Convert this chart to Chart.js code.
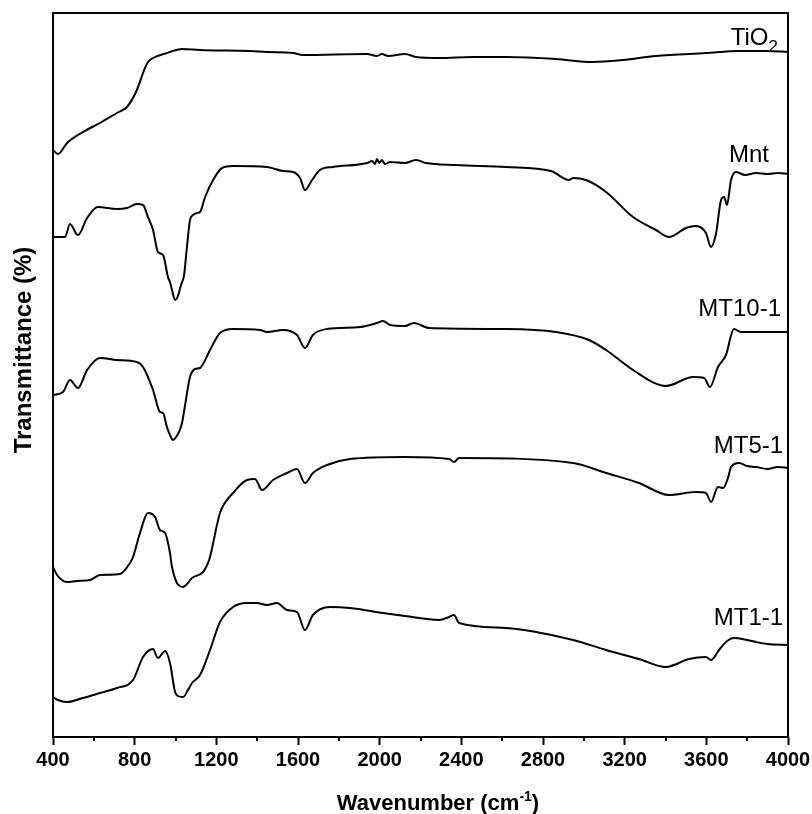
<!DOCTYPE html>
<html>
<head>
<meta charset="utf-8">
<script src="https://cdn.jsdelivr.net/npm/chart.js@4"></script>
<style>
  html, body { margin: 0; padding: 0; background: #fff; }
  #c { display: block; }
</style>
</head>
<body>
<canvas id="c" width="812" height="814"></canvas>
<script>
// ---------------- data ----------------
// x: wavenumber (cm-1); y: transmittance (arbitrary offset units)
const seriesNames = ['TiO2', 'Mnt', 'MT10-1', 'MT5-1', 'MT1-1'];

const wnTiO2 = [400,424,469,547,630,713,762,811,841,865,890,958,1032,1120,1365,1448,1576,1624,1938,1987,2011,2041,2124,2178,2291,2458,2619,2864,3045,3192,3353,3598,3760,3892,4000];
const tTiO2  = [587,583,594,605,614,624,630,647,664,675,679,684,688,687,686,685,684,682,683,681,683,681,683,680,679,680,680,678,675,677,681,684,686,686,685];

const wnMnt = [400,459,483,522,567,620,713,762,811,841,865,890,914,939,963,973,983,998,1012,1027,1042,1056,1071,1086,1105,1120,1145,1184,1228,1282,1448,1527,1576,1610,1634,1669,1708,1771,1938,1963,1977,1987,1997,2011,2026,2051,2124,2178,2227,2374,2619,2839,2927,2947,3011,3109,3241,3353,3417,3500,3549,3598,3623,3648,3672,3687,3701,3721,3745,3790,3843,3900,3950,4000];
const tMnt  = [500,500,513,502,519,530,528,529,533,532,520,507,485,482,460,455,447,437,441,452,462,490,517,522,524,525,540,557,569,571,570,566,565,559,547,557,567,570,574,576,573,578,574,577,573,575,574,577,574,572,570,566,557,559,557,545,520,507,500,509,511,504,490,504,537,540,532,557,565,562,564,563,564,563];

const wnMT10 = [400,449,483,522,567,630,713,811,841,890,924,939,958,973,988,1003,1017,1032,1047,1071,1096,1120,1169,1218,1282,1414,1448,1527,1595,1634,1673,1742,1904,1987,2016,2051,2124,2168,2242,2619,2864,3025,3109,3241,3402,3535,3589,3618,3657,3696,3735,3770,4000];
const tMT10  = [342,345,357,349,367,379,377,375,370,347,325,324,310,302,297,300,305,314,332,360,368,369,387,404,408,407,405,407,402,389,402,408,410,414,416,412,411,414,409,408,405,397,387,367,351,360,359,350,370,382,408,405,405];

const wnMT5 = [400,420,469,518,581,630,728,777,792,826,865,900,924,949,973,983,1007,1022,1037,1052,1081,1135,1159,1169,1218,1282,1350,1389,1424,1478,1546,1595,1634,1673,1742,1855,2124,2340,2364,2389,2947,3109,3270,3417,3549,3598,3623,3657,3682,3706,3721,3760,3800,3843,3900,3950,4000];
const tMT5  = [170,162,155,156,157,162,163,174,180,204,224,220,207,204,184,170,154,151,150,152,159,165,174,180,224,244,257,258,247,257,264,268,254,264,272,278,280,278,275,279,274,264,254,242,245,244,235,250,249,259,270,274,271,270,268,270,269];

const wnMT1 = [400,424,469,547,630,713,792,841,890,914,949,973,998,1012,1037,1061,1081,1120,1169,1218,1282,1350,1399,1448,1497,1546,1595,1634,1673,1757,1855,2016,2124,2291,2340,2364,2389,2619,2947,3109,3270,3402,3515,3598,3623,3662,3696,3735,3800,3843,3900,4000];
const tMT1  = [40,37,35,39,44,49,57,80,88,79,86,74,45,41,40,47,54,62,87,115,130,134,134,132,134,127,125,107,122,130,129,124,121,117,120,122,114,109,97,87,78,70,78,80,77,87,95,99,97,95,93,92];

const xTickValues = [400, 800, 1200, 1600, 2000, 2400, 2800, 3200, 3600, 4000];
const xMinorValues = [600, 1000, 1400, 1800, 2200, 2600, 3000, 3400, 3800];

// ---------------- chart ----------------
const FONT = 'Arial, "Liberation Sans", Helvetica, sans-serif';
const xsArr = [wnTiO2, wnMnt, wnMT10, wnMT5, wnMT1];
const ysArr = [tTiO2, tMnt, tMT10, tMT5, tMT1];

const datasets = seriesNames.map((name, i) => ({
  label: name,
  data: xsArr[i].map((x, j) => ({ x: x, y: ysArr[i][j] })),
  borderColor: '#000',
  borderWidth: 2,
  pointRadius: 0,
  fill: false,
  cubicInterpolationMode: 'monotone'
}));

// label anchors (data coords: right edge x, baseline y)
const labelAnchors = [
  { x: 3951, y: 692 },
  { x: 3907, y: 575 },
  { x: 3966, y: 421 },
  { x: 3976, y: 284 },
  { x: 3976, y: 112 }
];

const decorPlugin = {
  id: 'decor',
  afterDraw(chart) {
    const ctx = chart.ctx;
    const a = chart.chartArea;
    const xs = chart.scales.x, ys = chart.scales.y;
    ctx.save();
    // frame
    ctx.strokeStyle = '#000';
    ctx.lineWidth = 2;
    ctx.strokeRect(a.left, a.top, a.right - a.left, a.bottom - a.top);
    // minor ticks
    ctx.beginPath();
    xMinorValues.forEach(v => {
      const px = Math.round(xs.getPixelForValue(v));
      ctx.moveTo(px, a.bottom);
      ctx.lineTo(px, a.bottom + 4);
    });
    ctx.stroke();
    // series labels
    ctx.fillStyle = '#000';
    ctx.textBaseline = 'alphabetic';
    seriesNames.forEach((name, i) => {
      const px = xs.getPixelForValue(labelAnchors[i].x);
      const py = ys.getPixelForValue(labelAnchors[i].y);
      ctx.textAlign = 'right';
      if (name === 'TiO2') {
        ctx.font = '17px ' + FONT;
        const w2 = ctx.measureText('2').width;
        ctx.fillText('2', px, py + 7);
        ctx.font = '24px ' + FONT;
        ctx.fillText('TiO', px - w2, py);
      } else {
        ctx.font = '24px ' + FONT;
        ctx.fillText(name, px, py);
      }
    });
    // x axis title
    const t1 = 'Wavenumber (cm';
    ctx.font = 'bold 22px ' + FONT;
    const w1 = ctx.measureText(t1).width;
    ctx.font = 'bold 14px ' + FONT;
    const wsup = ctx.measureText('-1').width;
    ctx.font = 'bold 22px ' + FONT;
    const w3 = ctx.measureText(')').width;
    const total = w1 + wsup + w3;
    const cx = 438, by = 810;
    const sx = cx - total / 2;
    ctx.textAlign = 'left';
    ctx.fillText(t1, sx, by);
    ctx.font = 'bold 14px ' + FONT;
    ctx.fillText('-1', sx + w1, by - 9);
    ctx.font = 'bold 22px ' + FONT;
    ctx.fillText(')', sx + w1 + wsup, by);
    // y axis title
    ctx.translate(24, 350);
    ctx.rotate(-Math.PI / 2);
    ctx.font = 'bold 24px ' + FONT;
    ctx.textAlign = 'center';
    ctx.textBaseline = 'middle';
    ctx.fillText('Transmittance (%)', 0, 0);
    ctx.restore();
  }
};

new Chart(document.getElementById('c'), {
  type: 'line',
  data: { datasets: datasets },
  options: {
    responsive: false,
    animation: false,
    layout: { padding: { top: 13, right: 24, left: 0, bottom: 0 } },
    plugins: { legend: { display: false }, tooltip: { enabled: false } },
    scales: {
      x: {
        type: 'linear',
        min: 400,
        max: 4000,
        afterBuildTicks: (s) => { s.ticks = xTickValues.map(v => ({ value: v })); },
        ticks: {
          color: '#000',
          font: { family: FONT, size: 20, weight: 'bold' },
          padding: 3,
          maxRotation: 0,
          autoSkip: false,
          callback: (v) => String(v)
        },
        grid: { display: true, drawOnChartArea: false, drawTicks: true, tickLength: 8, tickWidth: 2, tickColor: '#000' },
        border: { display: false },
        afterFit: (s) => { s.height = 77; s.paddingLeft = 0; s.paddingRight = 0; }
      },
      y: {
        type: 'linear',
        min: 0,
        max: 724,
        ticks: { display: false },
        grid: { display: false, drawTicks: false },
        border: { display: false },
        afterFit: (s) => { s.width = 53; }
      }
    }
  },
  plugins: [decorPlugin]
});
</script>
</body>
</html>
